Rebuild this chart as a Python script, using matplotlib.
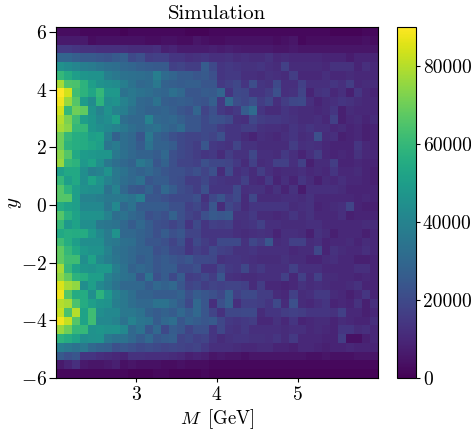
import numpy as np
import matplotlib
matplotlib.use("Agg")
import matplotlib.pyplot as plt

plt.rcParams['font.family'] = 'cmr10'
plt.rcParams['mathtext.fontset'] = 'cm'
plt.rcParams['axes.formatter.use_mathtext'] = True
plt.rcParams['axes.unicode_minus'] = True

title = "Simulation"
xlabel = r"$M\,$ [GeV]"
ylabel = r"$y$"
x_range = [2.0, 6.0]
y_range = [-6.0, 6.17]
color_max = 90000
x_ticks = [3, 4, 5]
y_ticks = [-6, -4, -2, 0, 2, 4, 6]
cbar_ticks = [0, 20000, 40000, 60000, 80000]

# Bin contents in thousands, rows from top (high y) to bottom (low y)
counts_left_k = [
[3,3,3,2,2,2,2,2,1,2,2,2,2,2,2,2,1,1,1],
[6,6,6,6,3,4,4,4,4,4,4,3,3,4,4,3,3,5,4],
[15,15,14,13,13,12,12,12,12,11,11,11,12,8,9,7,7,7,7],
[29,29,27,25,25,24,23,25,27,20,22,16,17,17,14,14,12,13,14],
[45,43,41,38,37,35,33,32,30,29,27,26,25,25,17,18,16,16,26],
[60,55,50,47,46,46,38,36,34,33,32,31,38,31,29,26,26,24,25],
[78,65,64,58,50,46,44,43,38,34,30,31,36,28,27,26,27,27,24],
[90,84,62,58,53,60,48,48,34,36,34,32,30,29,33,30,24,24,26],
[88,76,66,49,43,58,44,46,40,36,30,29,34,27,26,27,26,24,23],
[84,60,70,68,46,40,46,40,38,33,30,28,28,29,27,24,22,29,18],
[80,72,62,50,47,42,44,50,32,30,30,40,30,29,30,27,24,24,20],
[78,74,60,60,47,44,42,40,36,32,30,32,34,30,28,31,24,24,20],
[70,60,56,55,50,52,38,28,32,30,24,36,28,26,22,20,18,18,20],
[70,58,56,55,53,50,35,37,32,30,26,34,28,28,26,20,18,16,24],
[74,66,54,49,48,47,47,36,33,30,28,28,26,30,22,20,18,16,14],
[76,60,58,48,52,44,36,32,30,28,36,32,24,28,22,18,18,17,22],
[50,54,54,44,38,40,46,36,34,30,28,30,27,24,22,22,20,22,18],
[60,50,54,44,52,46,40,36,32,30,33,24,26,26,22,21,16,16,19],
[66,58,50,45,44,44,34,40,30,25,24,28,23,30,26,21,19,16,22],
[66,66,50,40,40,38,36,36,36,34,38,24,24,22,20,20,20,22,13],
[55,52,50,42,42,42,35,42,30,34,26,26,26,26,22,22,17,19,15],
[66,57,52,46,46,45,40,32,34,30,28,22,24,22,28,22,18,16,22],
[60,48,52,44,44,36,35,34,30,26,30,26,22,21,18,21,14,20,14],
[54,56,55,55,48,42,37,46,30,30,28,26,22,26,22,24,18,18,14],
[62,56,50,44,44,44,37,36,33,32,28,24,24,22,18,22,14,20,16],
[68,60,54,48,46,46,40,34,32,30,28,28,22,24,20,19,14,17,15],
[68,62,62,44,52,42,38,35,32,30,26,28,24,26,24,22,24,20,20],
[78,60,52,47,46,48,48,38,34,28,30,28,24,26,26,20,20,22,14],
[75,68,58,56,50,50,40,36,34,32,24,34,22,26,20,26,16,17,20],
[85,78,75,44,50,42,38,34,30,30,30,26,30,28,30,24,18,20,16],
[88,66,55,55,44,58,48,40,36,32,28,28,26,26,26,28,22,26,24],
[80,78,64,55,50,47,46,38,36,32,30,30,34,34,30,26,20,30,24],
[82,64,80,52,62,44,42,42,36,36,34,28,26,28,26,30,26,30,24],
[88,82,66,52,62,42,42,40,34,40,35,34,26,30,32,24,28,26,24],
[76,70,60,60,46,47,45,46,42,30,34,24,30,20,26,24,18,22,22],
[58,55,52,44,45,46,36,34,34,30,26,30,24,26,27,18,20,17,18],
[38,36,34,36,30,28,27,22,24,22,20,21,20,18,19,18,17,18,15],
[25,22,24,14,14,12,11,10,9,13,13,12,12,12,11,10,8,9,8],
[6,9,12,6,5,5,6,8,4,5,4,4,4,3,3,4,3,3,3],
[2,2,2,2,2,2,2,2,2,1,1,1,2,2,1,1,1,1,2],
]
counts_right_k = [
[2,2,2,2,2,2,2,2,2,2,2,2,2,2,2,1,1,1,1,2,2],
[3,3,4,4,4,4,4,4,3,4,5,2,3,3,3,3,3,3,3,4,3],
[8,7,8,7,6,6,6,6,5,5,6,5,5,5,5,5,5,5,5,5,5],
[12,12,13,11,12,11,11,13,10,11,10,10,10,10,9,9,9,7,9,9,9],
[20,14,15,14,13,13,14,12,11,17,11,11,11,11,10,13,13,13,9,12,10],
[22,14,15,15,12,12,11,13,12,11,16,10,10,10,12,10,10,11,10,10,10],
[24,15,17,19,14,21,14,13,20,12,12,17,12,12,12,14,12,16,10,11,11],
[25,29,14,20,19,14,14,16,22,12,13,18,9,13,14,10,12,8,14,10,9],
[27,15,30,21,19,22,16,19,12,16,19,20,12,9,11,12,14,13,11,10,10],
[22,15,13,15,26,31,14,11,11,14,12,11,11,10,11,14,8,11,10,10,10],
[23,22,20,13,12,19,16,15,15,14,13,11,11,12,10,17,8,10,11,9,11],
[20,16,14,14,16,16,13,12,12,11,14,12,14,12,12,10,11,9,10,8,9],
[18,22,14,14,11,9,12,11,10,12,14,11,12,22,11,12,8,9,10,8,9],
[15,14,13,18,13,13,11,11,11,11,16,12,13,12,10,9,9,9,14,10,9],
[15,11,16,13,13,19,12,12,11,15,12,9,12,16,10,9,10,9,13,10,10],
[19,19,18,15,11,17,11,12,17,17,12,17,8,11,11,16,9,9,10,9,9],
[22,11,20,12,14,11,16,12,10,11,11,12,10,11,10,14,10,10,11,9,8],
[15,14,13,13,17,11,10,15,9,12,9,14,11,8,11,10,12,10,10,9,8],
[14,14,14,20,12,13,13,10,13,9,13,7,12,12,12,12,11,9,9,9,9],
[19,23,17,20,11,19,11,11,11,12,12,11,13,10,10,10,10,10,9,10,9],
[24,11,19,16,11,14,14,14,14,14,11,12,13,9,10,11,12,18,9,8,8],
[25,24,25,13,13,15,11,11,10,11,14,11,13,10,10,10,12,8,9,9,9],
[17,16,17,12,13,14,17,12,12,11,11,11,12,12,10,10,10,10,10,11,11],
[14,14,14,12,11,12,13,12,9,12,12,11,8,13,11,8,10,10,10,8,10],
[14,20,20,20,13,19,16,24,11,12,17,17,11,12,9,10,10,11,9,11,10],
[20,17,16,13,13,14,12,12,12,12,10,11,11,19,9,13,11,10,10,12,10],
[19,13,14,14,13,12,11,11,11,13,11,11,9,9,11,12,10,10,8,8,9],
[14,19,15,14,19,13,15,12,12,12,17,12,12,12,10,10,10,10,12,12,9],
[16,24,13,12,11,11,12,12,12,17,10,17,11,17,11,11,10,10,9,10,9],
[18,17,18,18,17,11,16,10,10,9,10,13,11,12,11,10,10,11,13,9,9],
[22,19,27,17,20,20,16,16,11,10,17,11,12,15,15,11,10,8,10,14,9],
[12,22,27,12,17,17,16,14,20,11,22,11,10,12,14,9,10,9,13,8,12],
[18,13,19,19,20,20,11,14,14,16,17,16,14,14,14,13,17,10,10,8,10],
[25,19,15,14,15,16,10,10,13,10,14,9,10,11,11,9,11,10,9,9,12],
[14,19,14,13,15,12,12,12,12,11,12,12,10,11,10,9,14,14,11,12,10],
[14,11,13,14,14,13,13,12,14,11,15,10,10,10,9,9,16,4,4,8,10],
[12,12,12,11,10,10,11,11,9,9,8,10,10,9,8,9,9,10,9,9,9],
[5,6,5,5,4,5,5,5,5,5,5,5,4,4,5,4,4,4,5,5,5],
[2,2,2,2,2,2,2,2,2,2,2,2,2,2,2,2,2,2,2,2,2],
[1,1,1,1,1,1,1,1,1,1,1,1,1,1,1,1,1,1,1,1,1],
]

grid = np.hstack([counts_left_k, counts_right_k], dtype=float)[::-1] * 1000
x_edges = np.linspace(x_range[0], x_range[1], grid.shape[1] + 1)
y_edges = np.linspace(y_range[0], y_range[1], grid.shape[0] + 1)

W, H = 471, 433
fig = plt.figure(figsize=(W / 100, H / 100), dpi=100)
ax = fig.add_axes([56 / W, 1 - 378 / H, 322 / W, 351 / H])
mesh = ax.pcolormesh(x_edges, y_edges, grid, cmap="viridis", vmin=0, vmax=color_max,
                     rasterized=True)
ax.set_xlim(*x_range)
ax.set_ylim(*y_range)
ax.set_xticks(x_ticks)
ax.set_yticks(y_ticks)
ax.tick_params(axis='x', labelsize=14, length=3, pad=3)
ax.tick_params(axis='y', labelsize=14, length=5, pad=1.5)
ax.set_title(title, fontsize=15, pad=6)
ax.set_xlabel(xlabel, fontsize=13.5, labelpad=2)
ax.set_ylabel(ylabel, fontsize=15)
ax.yaxis.set_label_coords(-0.10, 0.5)

cax = fig.add_axes([397 / W, 1 - 378 / H, 19 / W, 351 / H])
cb = fig.colorbar(mesh, cax=cax)
cb.set_ticks(cbar_ticks)
cb.ax.tick_params(labelsize=14, length=3, pad=2)
cb.ax.set_yticklabels([str(v) for v in cbar_ticks])

fig.savefig("out.png", dpi=100)
